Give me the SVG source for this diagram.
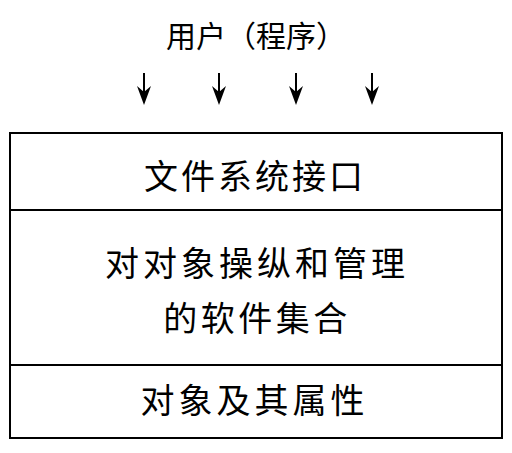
<svg xmlns="http://www.w3.org/2000/svg" width="512" height="453" viewBox="0 0 512 453">
<style>
text{font-family:"Noto Sans CJK SC","Noto Sans CJK TC",sans-serif;fill:#000;text-anchor:middle;dominant-baseline:central}
.t{font-size:34px;letter-spacing:4px}
.frame{fill:#fff;stroke:#000;stroke-width:2}
.ln{stroke:#000;stroke-width:2;fill:none}
</style>
<rect width="512" height="453" fill="#fff"/>
<g id="user">
<text x="256" y="33.5" style="font-size:30px">用户（程序）</text>
</g>
<g id="connectors">
<path class="ln" d="M144,73 V92"/>
<path class="ln" d="M219,73 V92"/>
<path class="ln" d="M296,73 V92"/>
<path class="ln" d="M372,73 V92"/>
<path d="M137,86 L144,92 L151,86 L144,105 Z" fill="#000"/>
<path d="M212,86 L219,92 L226,86 L219,105 Z" fill="#000"/>
<path d="M289,86 L296,92 L303,86 L296,105 Z" fill="#000"/>
<path d="M365,86 L372,92 L379,86 L372,105 Z" fill="#000"/>
</g>
<g id="stack">
<rect class="frame" x="10" y="133" width="492" height="305"/>
<path class="ln" d="M10,210 H502"/>
<path class="ln" d="M10,365 H502"/>
</g>
<g id="fs-interface">
<text class="t" x="255" y="174" style="letter-spacing:3px">文件系统接口</text>
</g>
<g id="software">
<text class="t" x="257" y="261.5">对对象操纵和管理</text>
<text class="t" x="257" y="316.5" style="letter-spacing:3.5px">的软件集合</text>
</g>
<g id="objects">
<text class="t" x="254.5" y="398.5">对象及其属性</text>
</g>
</svg>
